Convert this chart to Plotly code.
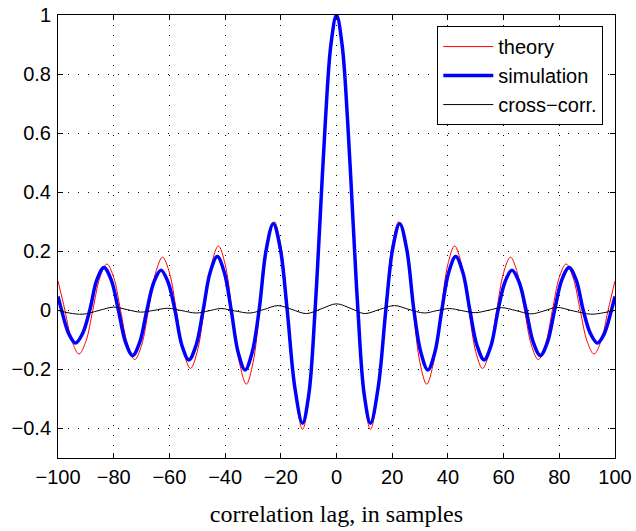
import plotly.graph_objects as go

# ---- data ----
theory_lag = [-100, -97.51, -94.99, -92.46, -89.99, -87.51, -84.98, -82.45, -79.99,
              -77.52, -74.98, -72.45, -69.99, -67.52, -64.98, -62.44, -59.98,
              -57.52, -54.98, -52.43, -49.98, -47.53, -44.97, -42.41, -39.97,
              -37.53, -34.96, -32.38, -29.97, -27.55, -24.94, -22.33, -19.95,
              -17.57, -14.88, -12.2, -9.93, -7.66, -6, -4, -2,
              0,
              2, 4, 6, 7.66, 9.93, 12.2, 14.88, 17.57,
              19.95, 22.33, 24.94, 27.55, 29.97, 32.38, 34.96, 37.53,
              39.97, 42.41, 44.97, 47.53, 49.98, 52.43, 54.98, 57.52,
              59.98, 62.44, 64.98, 67.52, 69.99, 72.45, 74.98, 77.52,
              79.99, 82.45, 84.98, 87.51, 89.99, 92.46, 94.99, 97.51, 100]
theory_val = [0.100, 0, -0.104, -0.148, -0.105, 0, 0.110, 0.157, 0.111,
              0, -0.117, -0.167, -0.118, 0, 0.126, 0.180, 0.127,
              0, -0.138, -0.197, -0.139, 0, 0.153, 0.218, 0.155,
              0, -0.172, -0.250, -0.177, 0, 0.208, 0.300, 0.217,
              0, -0.277, -0.403, -0.298, 0, 0.291, 0.643, 0.904,
              1.0,
              0.904, 0.643, 0.291, 0, -0.298, -0.403, -0.277, 0,
              0.217, 0.300, 0.208, 0, -0.177, -0.250, -0.172, 0,
              0.155, 0.218, 0.153, 0, -0.139, -0.197, -0.138, 0,
              0.127, 0.180, 0.126, 0, -0.118, -0.167, -0.117, 0,
              0.111, 0.157, 0.110, 0, -0.105, -0.148, -0.104, 0, 0.100]

sim_lag = [-100, -98.7, -96.2, -93.7, -91.15, -88.6, -86.05, -83.5, -80.9,
           -78.3, -75.75, -73.2, -70.65, -68.1, -65.55, -63.0, -60.5,
           -58.0, -55.5, -53.0, -50.45, -47.9, -45.35, -42.8, -40.3,
           -37.8, -35.3, -32.8, -30.3, -27.8, -25.25, -22.7, -20.2,
           -17.7, -14.95, -12.2, -9.95, -7.7, -6, -4, -2,
           0,
           2, 4, 6, 7.7, 9.95, 12.2, 14.95, 17.7,
           20.2, 22.7, 25.25, 27.8, 30.3, 32.8, 35.3, 37.8,
           40.3, 42.8, 45.35, 47.9, 50.45, 53.0, 55.5, 58.0,
           60.5, 63.0, 65.55, 68.1, 70.65, 73.2, 75.75, 78.3,
           80.9, 83.5, 86.05, 88.6, 91.15, 93.7, 96.2, 98.7, 100]
sim_val = [0.047, 0, -0.078, -0.111, -0.078, 0, 0.103, 0.145, 0.103,
           0, -0.108, -0.153, -0.108, 0, 0.096, 0.136, 0.096,
           0, -0.119, -0.168, -0.119, 0, 0.129, 0.182, 0.129,
           0, -0.143, -0.202, -0.143, 0, 0.205, 0.293, 0.210,
           0, -0.262, -0.382, -0.285, 0, 0.29, 0.64, 0.90,
           1.0,
           0.90, 0.64, 0.29, 0, -0.285, -0.382, -0.262, 0,
           0.210, 0.293, 0.205, 0, -0.143, -0.202, -0.143, 0,
           0.129, 0.182, 0.129, 0, -0.119, -0.168, -0.119, 0,
           0.096, 0.136, 0.096, 0, -0.108, -0.153, -0.108, 0,
           0.103, 0.145, 0.103, 0, -0.078, -0.111, -0.078, 0, 0.047]

xc_lag = [-100, -96, -91, -85.5, -80, -75, -70.4, -65.5, -60.6, -55.5, -50.4,
          -46, -41.5, -36.5, -31, -26, -21, -16, -10.8, -5.5, 0,
          5.5, 10, 15.5, 20.8, 26, 31.5, 36, 40.5, 45, 49.8,
          54.5, 59.3, 64.5, 69.9, 74.5, 79, 85, 91.3, 96, 100]
xc_val = [0.0, -0.009, -0.013, -0.001, 0.011, 0.002, -0.006, 0.0, 0.007, -0.001, -0.009,
          -0.002, 0.006, -0.002, -0.009, 0.003, 0.016, 0.003, -0.011, 0.005, 0.022,
          0.005, -0.011, 0.003, 0.016, 0.003, -0.009, -0.001, 0.006, -0.001, -0.008,
          0.0, 0.009, -0.001, -0.012, -0.002, 0.010, -0.002, -0.013, -0.008, 0.0]

x_ticks = [-100, -80, -60, -40, -20, 0, 20, 40, 60, 80, 100]
x_labels = ["\u2212100", "\u221280", "\u221260", "\u221240", "\u221220", "0",
            "20", "40", "60", "80", "100"]
y_ticks = [-0.4, -0.2, 0, 0.2, 0.4, 0.6, 0.8, 1]
y_labels = ["\u22120.4", "\u22120.2", "0", "0.2", "0.4", "0.6", "0.8", "1"]

series_names = ["theory", "simulation", "cross\u2212corr."]

# ---- figure ----
fig = go.Figure()
fig.add_trace(go.Scatter(x=theory_lag, y=theory_val, mode="lines", name=series_names[0],
                         line=dict(color="#ff0000", width=1, shape="spline", smoothing=1.0)))
fig.add_trace(go.Scatter(x=sim_lag, y=sim_val, mode="lines", name=series_names[1],
                         line=dict(color="#0000ff", width=3.5, shape="spline", smoothing=1.0)))
fig.add_trace(go.Scatter(x=xc_lag, y=xc_val, mode="lines", name=series_names[2],
                         line=dict(color="#000000", width=1, shape="spline", smoothing=1.0)))

tick_font = dict(family="Liberation Sans, Arial, sans-serif", size=20, color="black")
axis_common = dict(
    showline=True, linecolor="black", linewidth=1, mirror="ticks",
    ticks="inside", ticklen=5, tickcolor="black", tickwidth=1,
    showgrid=True, gridcolor="black", gridwidth=1, griddash="1px,9px",
    zeroline=False, automargin=False,
    tickfont=tick_font,
)

fig.update_layout(
    width=636, height=531,
    margin=dict(l=58, r=21, t=15, b=73, pad=0),
    paper_bgcolor="white", plot_bgcolor="white",
    showlegend=True,
    legend=dict(
        x=0.979, y=0.975, xanchor="right", yanchor="top",
        bgcolor="white", bordercolor="black", borderwidth=1,
        font=dict(family="Liberation Sans, Arial, sans-serif", size=20, color="black"),
        tracegroupgap=0, itemwidth=50,
    ),
    xaxis=dict(range=[-100, 100], tickmode="array", tickvals=x_ticks, ticktext=x_labels,
               ticklabelstandoff=1,
               title=dict(text="correlation lag, in samples",
                          font=dict(family="Liberation Serif, Times New Roman, serif",
                                    size=24, color="black"),
                          standoff=18),
               **axis_common),
    yaxis=dict(range=[-0.5, 1], tickmode="array", tickvals=y_ticks, ticktext=y_labels,
               ticklabelstandoff=2,
               **axis_common),
)

# remove the browser's default 8px body margin so the figure fills the window
fig.write_html("out.html",
               config={"displayModeBar": False},
               post_script="document.body.style.margin='0px';document.body.style.overflow='hidden';")
